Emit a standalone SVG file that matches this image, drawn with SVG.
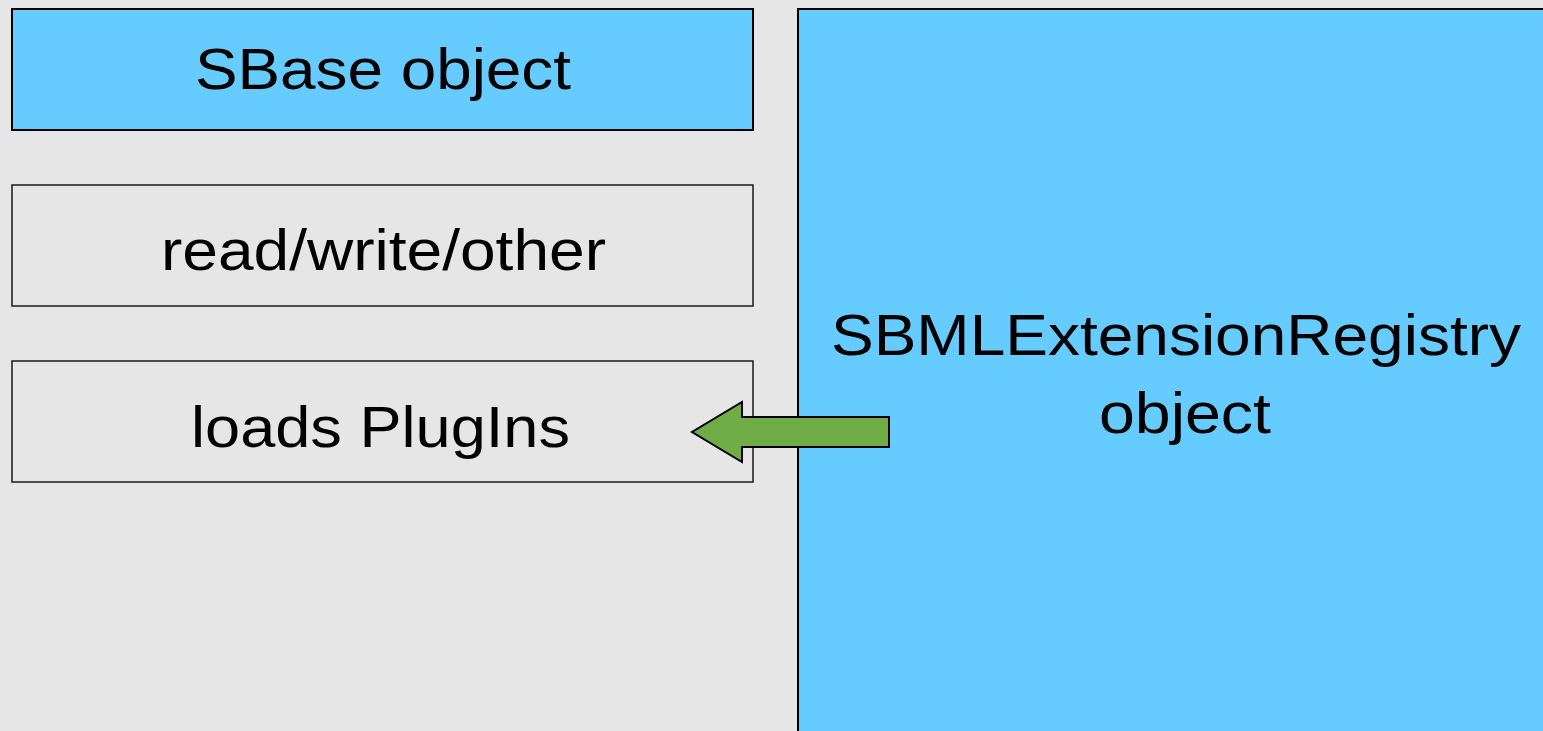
<svg xmlns="http://www.w3.org/2000/svg" width="1543" height="731" viewBox="0 0 1543 731">
<style>
.bg{fill:#e6e6e6}
.blue{fill:#66ccff;stroke:#000;stroke-width:2}
.plain{fill:#e6e6e6;stroke:#1a1a1a;stroke-width:1.5}
.lbl{font-family:"Liberation Sans",Arial,sans-serif;font-size:58px;fill:#000}
.arrow{fill:#70ad47;stroke:#000;stroke-width:2;stroke-linejoin:miter}
</style>
<rect class="bg" x="0" y="0" width="1543" height="731"/>
<g id="sbase">
<rect class="blue" x="12" y="9" width="741" height="121"/>
<text class="lbl" x="195" y="89" textLength="376" lengthAdjust="spacingAndGlyphs">SBase object</text>
</g>
<g id="readwrite">
<rect class="plain" x="12" y="185" width="741" height="121"/>
<text class="lbl" x="161" y="270" textLength="445" lengthAdjust="spacingAndGlyphs">read/write/other</text>
</g>
<g id="loads">
<rect class="plain" x="12" y="361" width="741" height="121"/>
<text class="lbl" x="191" y="447" textLength="379" lengthAdjust="spacingAndGlyphs">loads PlugIns</text>
</g>
<g id="registry">
<rect class="blue" x="798" y="9" width="760" height="740"/>
<text class="lbl" x="831" y="355" textLength="690" lengthAdjust="spacingAndGlyphs">SBMLExtensionRegistry</text>
<text class="lbl" x="1099" y="433" textLength="172" lengthAdjust="spacingAndGlyphs">object</text>
</g>
<g id="connectors">
<polygon class="arrow" points="889,417 742,417 742,402 692,432 742,462 742,447 889,447"/>
</g>
</svg>
